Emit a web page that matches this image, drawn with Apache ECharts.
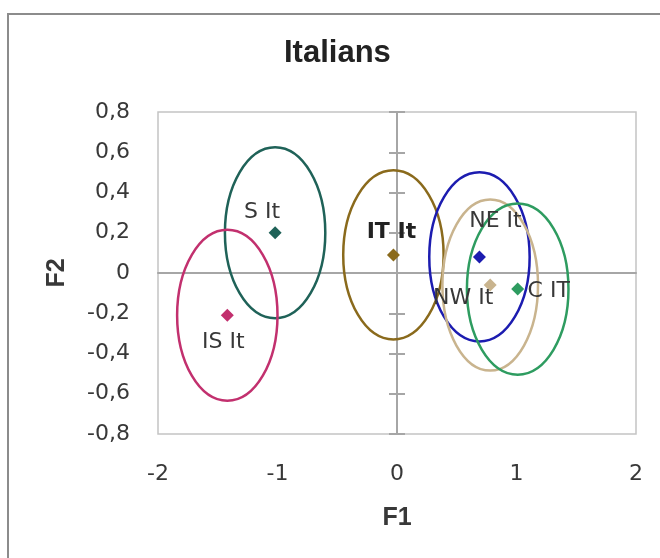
<!DOCTYPE html>
<html>
<head>
<meta charset="utf-8">
<script src="https://cdn.jsdelivr.net/npm/echarts@6/dist/echarts.min.js"></script>
<style>
html,body{margin:0;padding:0;background:#fff;}
#chart{width:660px;height:558px;}
</style>
</head>
<body>
<div id="chart"></div>
<script>
// ---- data ----
const groups = ['S It', 'IS It', 'IT It', 'NE It', 'NW It', 'C IT'];
const f1 = [-1.02, -1.42, -0.03, 0.69, 0.78, 1.01];
const f2 = [0.20, -0.21, 0.09, 0.08, -0.06, -0.08];
const ellipseRx = [0.42, 0.42, 0.42, 0.42, 0.40, 0.425];
const ellipseRy = [0.425, 0.425, 0.42, 0.42, 0.425, 0.425];
const xTicks = [-2, -1, 0, 1, 2];
const yTicks = [-0.8, -0.6, -0.4, -0.2, 0, 0.2, 0.4, 0.6, 0.8];

// ---- styles ----
const colors = ['#1f6258', '#c2306e', '#8a6a1c', '#1c1cb0', '#c9b48e', '#2e9c60'];
const labelOffsets = [[-13, -20], [-4, 27], [-2, -23], [16, -36], [-27, 13], [31, 2]];
const labelBold = [false, false, true, false, false, false];

const fmt = v => {
  const r = Math.round(v * 10) / 10;
  return r === 0 ? '0' : String(r).replace('.', ',');
};

const chart = echarts.init(document.getElementById('chart'), null, {renderer: 'canvas'});

const ellipseData = groups.map((g, i) => ({
  value: [f1[i], f2[i], ellipseRx[i], ellipseRy[i]],
  itemStyle: {color: colors[i]}
}));
const pointData = groups.map((g, i) => ({
  name: g,
  value: [f1[i], f2[i]],
  itemStyle: {color: colors[i], opacity: 1},
  label: {
    offset: labelOffsets[i],
    fontWeight: labelBold[i] ? 'bold' : 'normal',
    color: labelBold[i] ? '#222222' : '#383838'
  }
}));

const tickFont = {fontFamily: 'DejaVu Sans', fontSize: 22, color: '#383838'};

chart.setOption({
  animation: false,
  backgroundColor: '#ffffff',
  title: {
    text: 'Italians',
    left: 284,
    top: 38,
    padding: 0,
    textStyle: {fontFamily: 'Liberation Sans', fontWeight: 'bold', fontSize: 31, color: '#222222'}
  },
  graphic: [{
    type: 'rect',
    shape: {x: 8, y: 14, width: 700, height: 600},
    style: {fill: 'none', stroke: '#8c8c8c', lineWidth: 2},
    silent: true,
    z: -10
  }],
  grid: {
    left: 158, right: 24, top: 112, bottom: 124,
    show: true, borderColor: '#c4c4c4', borderWidth: 1.5, backgroundColor: 'transparent'
  },
  xAxis: [{
    type: 'value', min: xTicks[0], max: xTicks[xTicks.length - 1], interval: 1,
    position: 'bottom',
    axisLine: {show: false, onZero: false},
    axisTick: {show: false},
    splitLine: {show: false},
    axisLabel: Object.assign({margin: 29, formatter: fmt}, tickFont),
    name: 'F1', nameLocation: 'middle', nameGap: 72,
    nameTextStyle: {fontFamily: 'Liberation Sans', fontWeight: 'bold', fontSize: 25, color: '#383838'}
  }, {
    type: 'value', min: xTicks[0], max: xTicks[xTicks.length - 1], interval: 1,
    axisLine: {show: true, onZero: true, onZeroAxisIndex: 0, lineStyle: {color: '#a6a6a6', width: 2}},
    axisTick: {show: false},
    axisLabel: {show: false},
    splitLine: {show: false}
  }],
  yAxis: [{
    type: 'value', min: yTicks[0], max: yTicks[yTicks.length - 1], interval: 0.2,
    position: 'left',
    axisLine: {show: false, onZero: false},
    axisTick: {show: false},
    splitLine: {show: false},
    axisLabel: Object.assign({margin: 28, formatter: fmt}, tickFont),
    name: 'F2', nameLocation: 'middle', nameGap: 88, nameRotate: 90,
    nameTextStyle: {fontFamily: 'Liberation Sans', fontWeight: 'bold', fontSize: 25, color: '#383838'}
  }, {
    type: 'value', min: yTicks[0], max: yTicks[yTicks.length - 1], interval: 0.2,
    position: 'left',
    axisLine: {show: true, onZero: true, onZeroAxisIndex: 0, lineStyle: {color: '#a6a6a6', width: 2}},
    axisTick: {show: true, inside: true, length: 8, lineStyle: {color: '#a6a6a6', width: 2}},
    axisLabel: {show: false},
    splitLine: {show: false}
  }, {
    type: 'value', min: yTicks[0], max: yTicks[yTicks.length - 1], interval: 0.2,
    position: 'left',
    axisLine: {show: false, onZero: true, onZeroAxisIndex: 0},
    axisTick: {show: true, inside: false, length: 8, lineStyle: {color: '#a6a6a6', width: 2}},
    axisLabel: {show: false},
    splitLine: {show: false}
  }],
  series: [{
    type: 'custom',
    xAxisIndex: 0, yAxisIndex: 0,
    data: ellipseData,
    encode: {x: 0, y: 1},
    silent: true,
    z: 2,
    renderItem: function (params, api) {
      const cx = api.value(0), cy = api.value(1), rx = api.value(2), ry = api.value(3);
      const c = api.coord([cx, cy]);
      const p = api.coord([cx + rx, cy + ry]);
      return {
        type: 'ellipse',
        shape: {cx: c[0], cy: c[1], rx: Math.abs(p[0] - c[0]), ry: Math.abs(c[1] - p[1])},
        style: {fill: 'none', stroke: api.visual('color'), lineWidth: 2.5}
      };
    }
  }, {
    type: 'scatter',
    xAxisIndex: 0, yAxisIndex: 0,
    symbol: 'diamond',
    symbolSize: 13,
    z: 3,
    data: pointData,
    label: {
      show: true,
      position: 'inside',
      formatter: '{b}',
      fontFamily: 'DejaVu Sans',
      fontSize: 22,
      align: 'center',
      verticalAlign: 'middle'
    }
  }]
});
</script>
</body>
</html>
